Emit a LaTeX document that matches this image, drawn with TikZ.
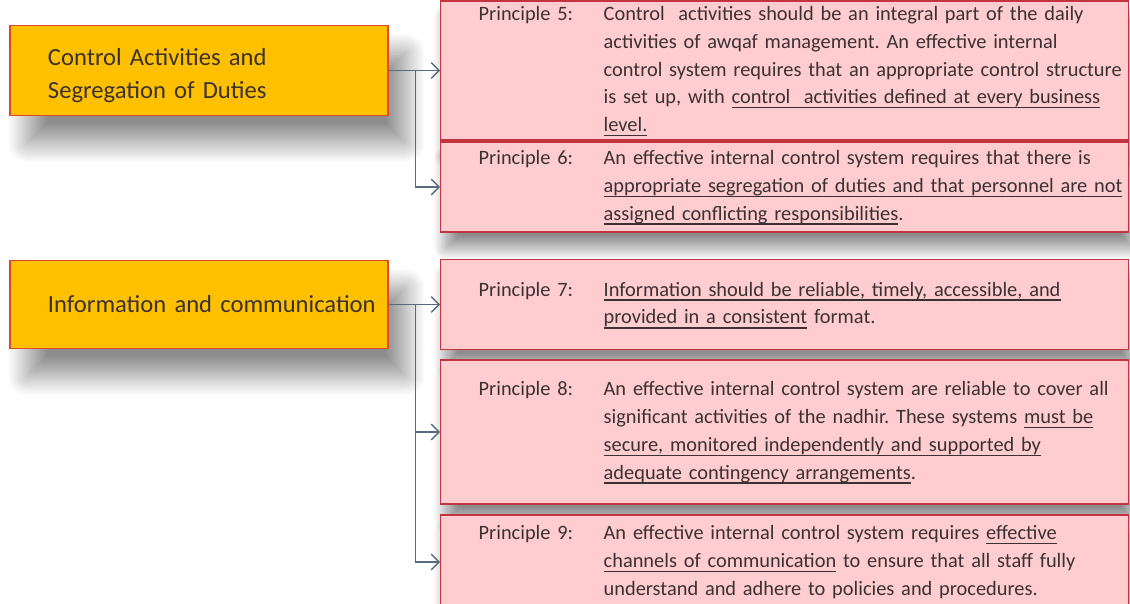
\documentclass[tikz,border=0pt]{standalone}
\usepackage{fontspec}
\setmainfont{Carlito}
\usetikzlibrary{positioning,arrows.meta,shadows.blur}
\definecolor{headgold}{RGB}{255,192,0}
\definecolor{headedge}{RGB}{222,72,36}
\definecolor{pinkfill}{RGB}{255,204,208}
\definecolor{pinkedge}{RGB}{196,52,62}
\definecolor{linkgray}{RGB}{88,108,128}
\definecolor{inkgray}{RGB}{58,50,50}
\tikzset{
  head box/.style={draw=headedge, line width=0.8pt, fill=headgold, text=inkgray,
    text width=7.16cm, inner xsep=0.2cm, inner ysep=0pt, align=left,
    font=\fontsize{14}{18.8}\selectfont,
    blur shadow={shadow xshift=0.35cm, shadow yshift=-0.55cm, shadow blur radius=0.4cm,
      shadow blur steps=30, shadow opacity=45}},
  principle/.style={draw=pinkedge, line width=0.8pt, fill=pinkfill, text=inkgray,
    text width=12.24cm, inner xsep=0.76cm, inner ysep=0pt, align=left, anchor=west,
    font=\fontsize{11.6}{15.8}\selectfont\frenchspacing,
    blur shadow={shadow xshift=0.1cm, shadow yshift=-0.32cm, shadow blur radius=0.25cm,
      shadow blur steps=25, shadow opacity=45}},
  link/.style={draw=linkgray, line width=0.75pt, -{Straight Barb[length=4.5pt,width=9pt]}}
}
\newcommand{\indt}{\hspace*{0.56cm}}
\newsavebox{\ulnbox}
\newcommand{\uln}[1]{\sbox{\ulnbox}{#1}\rlap{\rule[-2.6pt]{\wd\ulnbox}{0.8pt}}\usebox{\ulnbox}}

\begin{document}
\begin{tikzpicture}
    \useasboundingbox (0,0) rectangle (22.6,12.06);
    % Headings
    \node[head box, minimum height=1.8cm] (cad) at (3.98,10.65)
        {\rule{0pt}{15.5pt}\indt Control Activities and\\\indt Segregation of Duties};
    \node[head box, minimum height=1.76cm] (ic) at (3.98,5.97)
        {\indt Information and communication};
    % Principles 5 and 6
    \node[principle, minimum height=2.64cm] (p5) at (8.8,10.65) {%
        \begin{tabular}{@{}p{2.5cm}@{}l@{}}
        Principle 5: & Control~ activities should be an integral part of the daily\\
         & activities of awqaf management. An effective internal\\
         & control system requires that an appropriate control structure\\
         & is set up, with \uln{control~ activities defined at every business}\\
         & \uln{level.}
        \end{tabular}};
    \node[principle, minimum height=1.8cm] (p6) at (8.8,8.32) {%
        \begin{tabular}{@{}p{2.5cm}@{}l@{}}
        Principle 6: & An effective internal control system requires that there is\\
         & \uln{appropriate segregation of duties and that personnel are not}\\
         & \uln{assigned conflicting responsibilities}.
        \end{tabular}};
    % Principles 7 to 9
    \node[principle, minimum height=1.8cm] (p7) at (8.8,5.97) {%
        \begin{tabular}{@{}p{2.5cm}@{}l@{}}
        Principle 7: & \uln{Information should be reliable, timely, accessible, and}\\
         & \uln{provided in a consistent} format.
        \end{tabular}};
    \node[principle, minimum height=2.88cm] (p8) at (8.8,3.42) {%
        \begin{tabular}{@{}p{2.5cm}@{}l@{}}
        Principle 8: & An effective internal control system are reliable to cover all\\
         & significant activities of the nadhir. These systems \uln{must be}\\
         & \uln{secure, monitored independently and supported by}\\
         & \uln{adequate contingency arrangements}.
        \end{tabular}};
    \node[principle, minimum height=1.88cm] (p9) at (8.8,0.82) {%
        \begin{tabular}{@{}p{2.5cm}@{}l@{}}
        Principle 9: & An effective internal control system requires \uln{effective}\\
         & \uln{channels of communication} to ensure that all staff fully\\
         & understand and adhere to policies and procedures.
        \end{tabular}};
    % Links
    \coordinate[right=0.54cm of cad.east] (j1);
    \coordinate[right=0.54cm of ic.east] (j2);
    \draw[link] (cad.east) -- (p5.west);
    \draw[link] (j1) |- (p6.west);
    \draw[link] (ic.east) -- (p7.west);
    \draw[link] (j2) |- (p8.west);
    \draw[link] (j2) |- (p9.west);
\end{tikzpicture}
\end{document}
